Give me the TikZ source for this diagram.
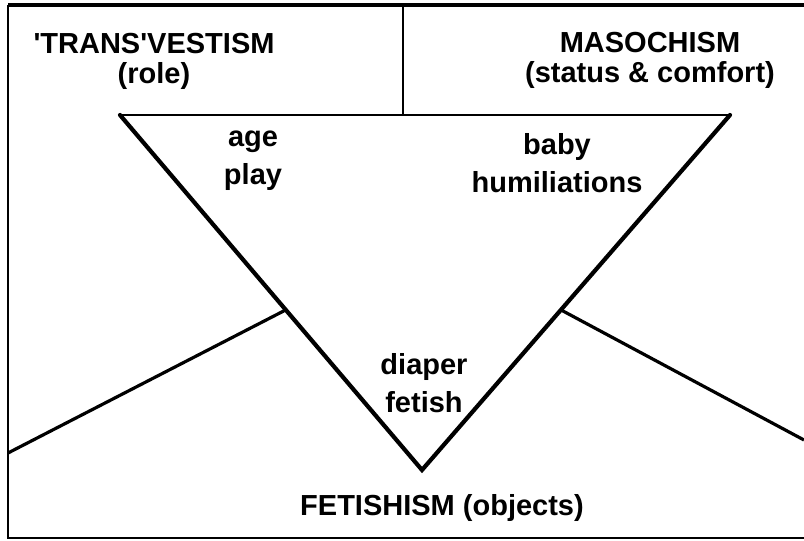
\documentclass[tikz,border=0pt]{standalone}
\usepackage{fontspec}
\setmainfont{Liberation Sans}
\usetikzlibrary{calc}
\begin{document}
\begin{tikzpicture}[x=1pt,y=-1pt,
  lbltop/.style={font=\bfseries\fontsize{29}{30}\selectfont, align=center, inner sep=0pt},
  lblin/.style={font=\bfseries\fontsize{29}{38}\selectfont, align=center, inner sep=0pt},
  framepen/.style={line width=2.2pt},
  toppen/.style={line width=4pt},
  edgepen/.style={line width=4.2pt, line cap=round, line join=miter},
  branchpen/.style={line width=3.2pt}]
\useasboundingbox (0,0) rectangle (804,541);
\fill[white] (0,0) rectangle (804,541);
% frame
\coordinate (ftl) at (8,5);
\coordinate (ftr) at (804,5);
\coordinate (fbl) at (8,538);
\coordinate (fbr) at (804,538);
\draw[toppen] (ftl) -- (ftr);
\draw[framepen] (ftl) -- (fbl) -- (fbr);
% triangle
\coordinate (tl) at (120,115);
\coordinate (tr) at (730,115);
\coordinate (bt) at (422,470);
\coordinate (divtop) at (403,5);
\coordinate (divbot) at (403,115);
\draw[framepen] (divtop) -- (divbot);
\draw[framepen] (tl) -- (tr);
\draw[edgepen] (tl) -- (bt) -- (tr);
% branches
\coordinate (lj) at ($(tl)!0.549!(bt)$);
\coordinate (rj) at ($(tr)!0.549!(bt)$);
\coordinate (lend) at (8,453);
\coordinate (rend) at (804,440);
\draw[branchpen] (lend) -- (lj);
\draw[branchpen] (rj) -- (rend);
% labels
\node[lbltop] (trans) at (154,61) {\textquotesingle TRANS\textquotesingle VESTISM\\(role)};
\node[lbltop] (maso) at (650,60) {MASOCHISM\\(status \& comfort)};
\node[lblin] (age) at (253,161) {age\\play};
\node[lblin] (baby) at (557,163) {baby\\humiliations};
\node[lblin] (diaper) at (424,383) {diaper\\fetish};
\node[lblin] (fet) at (442,508) {FETISHISM (objects)};
\end{tikzpicture}
\end{document}
